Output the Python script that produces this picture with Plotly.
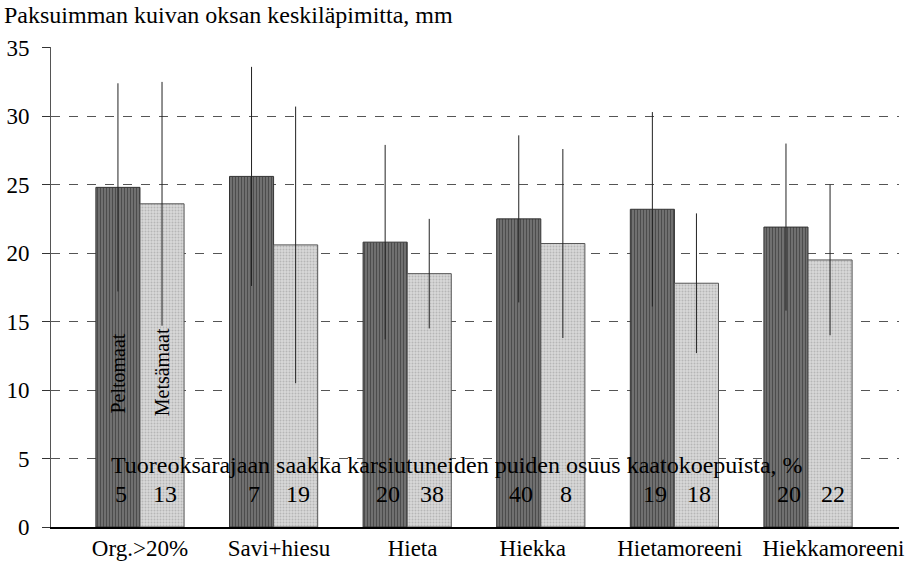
import plotly.graph_objects as go

categories = ["Org.>20%", "Savi+hiesu", "Hieta", "Hiekka", "Hietamoreeni", "Hiekkamoreeni"]

# mean diameter of the thickest dry branch, mm
peltomaat = [24.8, 25.6, 20.8, 22.5, 23.2, 21.9]
metsamaat = [23.6, 20.6, 18.5, 20.7, 17.8, 19.5]

# standard deviations (error bar half-lengths)
peltomaat_sd = [7.6, 8.0, 7.1, 6.1, 7.1, 6.1]
metsamaat_sd = [8.9, 10.1, 4.0, 6.9, 5.1, 5.5]

# share of pruned trees up to the fresh branch limit, %
peltomaat_pct = [5, 7, 20, 40, 19, 20]
metsamaat_pct = [13, 19, 38, 8, 18, 22]

FONT = "Times New Roman, Liberation Serif, DejaVu Serif, serif"
xs = list(range(len(categories)))

fig = go.Figure()
fig.add_trace(go.Bar(
    x=xs, y=peltomaat, name="Peltomaat",
    marker=dict(
        color="#666666",
        line=dict(color="#333333", width=1),
        pattern=dict(shape="|", fgcolor="#222222", bgcolor="#777777", size=3, solidity=0.45),
    ),
    error_y=dict(type="data", array=peltomaat_sd, color="#222222", thickness=1, width=0),
))
fig.add_trace(go.Bar(
    x=xs, y=metsamaat, name="Metsämaat",
    marker=dict(
        color="#cccccc",
        line=dict(color="#555555", width=1),
        pattern=dict(shape=".", fgcolor="#949494", bgcolor="#d8d8d8", size=3, solidity=0.35),
    ),
    error_y=dict(type="data", array=metsamaat_sd, color="#222222", thickness=1, width=0),
))

off = 0.165
annotations = [
    dict(x=-off, y=11.2, text="Peltomaat", textangle=-90, showarrow=False,
         font=dict(size=20, color="black", family=FONT)),
    dict(x=off, y=11.3, text="Metsämaat", textangle=-90, showarrow=False,
         font=dict(size=20, color="black", family=FONT)),
    dict(x=2.37, y=4.5, text="Tuoreoksarajaan saakka karsiutuneiden puiden osuus kaatokoepuista, %",
         showarrow=False, font=dict(size=24, color="black", family=FONT)),
]
for i in xs:
    annotations.append(dict(x=i - off + 0.02, y=2.4, text=str(peltomaat_pct[i]), showarrow=False,
                            font=dict(size=24, color="black", family=FONT)))
    annotations.append(dict(x=i + off + 0.02, y=2.4, text=str(metsamaat_pct[i]), showarrow=False,
                            font=dict(size=24, color="black", family=FONT)))

fig.update_layout(
    width=911, height=564,
    margin=dict(l=51, r=12, t=47, b=37, autoexpand=False),
    paper_bgcolor="white", plot_bgcolor="white",
    barmode="group", bargap=0.34, bargroupgap=0,
    showlegend=False,
    font=dict(family=FONT, size=23, color="black"),
    annotations=annotations,
)
fig.add_annotation(
    text="Paksuimman kuivan oksan keskiläpimitta, mm", xref="paper", yref="paper",
    x=-49 / 848, y=1 + 32 / 480, xanchor="left", yanchor="middle", showarrow=False,
    font=dict(size=24, family=FONT, color="black"),
)
# category labels are spread a little in the original to keep them from touching
label_shift = [0, 0.04, 0.04, -0.06, 0.04, 0.19]
fig.update_xaxes(
    range=[-0.666, 5.681], tickvals=[i + s for i, s in zip(xs, label_shift)],
    ticktext=categories, automargin=False,
    tickangle=0, tickfont=dict(size=23),
    showline=True, linecolor="black", linewidth=1.5, showgrid=False,
    ticks="", zeroline=False,
)
fig.update_yaxes(
    range=[0, 35.05], tickvals=[0, 5, 10, 15, 20, 25, 30, 35], automargin=False,
    showline=True, linecolor="#555555", linewidth=1, tickfont=dict(size=23),
    ticks="outside", ticklen=8, tickcolor="#333333", ticklabelstandoff=8,
    showgrid=True, gridcolor="#555555", gridwidth=1, griddash="dash",
    zeroline=False,
)

# drop the default page margin so the figure sits at the window's corner
fig.write_html(
    "out.html",
    config={"displayModeBar": False},
    post_script="document.body.style.margin='0';",
)
